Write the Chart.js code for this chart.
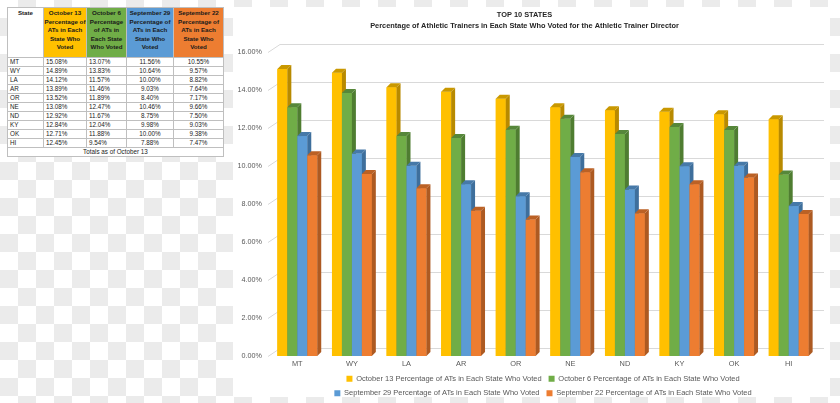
<!DOCTYPE html>
<html>
<head>
<meta charset="utf-8">
<script src="https://cdn.jsdelivr.net/npm/chart.js@4"></script>
<style>
  html, body { margin: 0; padding: 0; }
  body {
    width: 840px; height: 403px; overflow: hidden; position: relative;
    background-color: #fff;
    background-image: conic-gradient(#ebebeb 25%, transparent 0 50%, #ebebeb 0 75%, transparent 0);
    background-size: 36px 36px;
    font-family: "Liberation Sans", Arial, sans-serif;
  }
  #tbl { position: absolute; left: 7px; top: 7px; border-collapse: collapse; table-layout: fixed;
         background: #fff; font-size: 6.3px; color: #222; }
  #tbl td, #tbl th { border: 1px solid #bfbfbf; padding: 0 2px; height: 8px; line-height: 8px; white-space: nowrap; }
  #tbl th { font-weight: bold; font-size: 6.2px; vertical-align: top; text-align: center;
            height: 48px; line-height: 8.6px; padding: 1px 0 0; color: #1a1a1a; overflow: hidden; }
  #tbl td.c { text-align: center; }
  #panel { position: absolute; left: 233px; top: 7px; width: 597px; height: 390px; background: #fff; }
</style>
</head>
<body>
<table id="tbl">
  <colgroup><col style="width:36px"><col style="width:43px"><col style="width:40px"><col style="width:47px"><col style="width:50px"></colgroup>
  <thead><tr id="head"></tr></thead>
  <tbody id="body"></tbody>
</table>
<div id="panel"><canvas id="grafico" width="597" height="390"></canvas></div>
<script>
// datos
const states = ['MT', 'WY', 'LA', 'AR', 'OR', 'NE', 'ND', 'KY', 'OK', 'HI'];
const seriesNames = [
  'October 13 Percentage of ATs in Each State Who Voted',
  'October 6 Percentage of ATs in Each State Who Voted',
  'September 29 Percentage of ATs in Each State Who Voted',
  'September 22 Percentage of ATs in Each State Who Voted'
];
const oct13 = [15.08, 14.89, 14.12, 13.89, 13.52, 13.08, 12.92, 12.84, 12.71, 12.45];
const oct6 = [13.07, 13.83, 11.57, 11.46, 11.89, 12.47, 11.67, 12.04, 11.88, 9.54];
const sep29 = [11.56, 10.64, 10.00, 9.03, 8.40, 10.46, 8.75, 9.98, 10.00, 7.88];
const sep22 = [10.55, 9.57, 8.82, 7.64, 7.17, 9.66, 7.50, 9.03, 9.38, 7.47];
const yTicks = [0, 2, 4, 6, 8, 10, 12, 14, 16];

// cortes de línea de los encabezados de la tabla
const headerBreaks = [
  ['October 13', 'Percentage of', 'ATs in Each', 'State Who', 'Voted'],
  ['October 6', 'Percentage', 'of ATs in', 'Each State', 'Who Voted'],
  ['September 29', 'Percentage of', 'ATs in Each', 'State Who', 'Voted'],
  ['September 22', 'Percentage of', 'ATs in Each', 'State Who', 'Voted']
];

const series = [oct13, oct6, sep29, sep22];
const fronts = ['#ffc000', '#70ad47', '#5b9bd5', '#ed7d31'];
const sides = ['#b88a00', '#4f7d31', '#3e6f9c', '#ad5a22'];
const tops = ['#c99800', '#56873a', '#4679a8', '#bb6125'];
const pct = v => v.toFixed(2) + '%';

// tabla
const head = document.getElementById('head');
head.innerHTML = '<th>State</th>' + headerBreaks.map((lines, i) =>
  `<th style="background:${fronts[i]}">${lines.join('<br>')}</th>`).join('');
const body = document.getElementById('body');
states.forEach((s, r) => {
  body.innerHTML += `<tr><td>${s}</td><td>${pct(oct13[r])}</td><td>${pct(oct6[r])}</td>` +
    `<td class="c">${pct(sep29[r])}</td><td class="c">${pct(sep22[r])}</td></tr>`;
});
body.innerHTML += '<tr><td colspan="5" class="c">Totals as of October 13</td></tr>';

// rejilla en perspectiva (pared del fondo)
const backWall = {
  id: 'backWall',
  beforeDatasetsDraw(chart) {
    const ctx = chart.ctx, y = chart.scales.y, a = chart.chartArea;
    ctx.save();
    ctx.strokeStyle = '#d9d9d9';
    ctx.lineWidth = 1;
    yTicks.forEach(v => {
      const py = Math.round(y.getPixelForValue(v)) + 0.5;
      ctx.beginPath();
      ctx.moveTo(a.left - 2, py);
      ctx.lineTo(a.left + 10, py - 8);
      ctx.lineTo(a.right + 8, py - 8);
      ctx.stroke();
    });
    ctx.restore();
  }
};

// columnas con profundidad
const depth3d = {
  id: 'depth3d',
  afterDatasetsDraw(chart) {
    const ctx = chart.ctx, d = 4;
    ctx.save();
    chart.data.datasets.forEach((ds, i) => {
      chart.getDatasetMeta(i).data.forEach(bar => {
        const l = bar.x - bar.width / 2, r = bar.x + bar.width / 2;
        ctx.fillStyle = fronts[i];
        ctx.fillRect(l, bar.y, bar.width, bar.base - bar.y);
        ctx.fillStyle = sides[i];
        ctx.beginPath();
        ctx.moveTo(r, bar.y); ctx.lineTo(r + d, bar.y - d);
        ctx.lineTo(r + d, bar.base - d); ctx.lineTo(r, bar.base);
        ctx.closePath(); ctx.fill();
        ctx.fillStyle = tops[i];
        ctx.beginPath();
        ctx.moveTo(l, bar.y); ctx.lineTo(l + d, bar.y - d);
        ctx.lineTo(r + d, bar.y - d); ctx.lineTo(r, bar.y);
        ctx.closePath(); ctx.fill();
      });
    });
    ctx.restore();
  }
};

Chart.defaults.font.family = '"Liberation Sans", Arial, sans-serif';
Chart.defaults.color = '#595959';

new Chart(document.getElementById('grafico'), {
  type: 'bar',
  data: {
    labels: states,
    datasets: series.map((data, i) => ({
      label: seriesNames[i],
      data: data,
      backgroundColor: fronts[i],
      categoryPercentage: 0.73,
      barPercentage: 1
    }))
  },
  options: {
    responsive: false,
    animation: false,
    devicePixelRatio: 1,
    layout: { padding: { left: 0, right: 14, bottom: -10 } },
    plugins: {
      title: {
        display: true,
        text: ['TOP 10 STATES', 'Percentage of Athletic Trainers in Each State Who Voted for the Athletic Trainer Director'],
        color: '#262626',
        font: { size: 7.4, weight: 'bold', lineHeight: 1.5 },
        padding: { top: 2.6, bottom: 19.8 }
      },
      legend: {
        position: 'bottom',
        fullSize: false,
        labels: { boxWidth: 6, boxHeight: 6, padding: 7, font: { size: 7.5 }, color: '#595959' }
      },
      tooltip: { enabled: false }
    },
    scales: {
      x: {
        afterFit: scale => { scale.height = 12; },
        grid: { display: false, drawTicks: false },
        border: { display: false },
        ticks: { font: { size: 7.4 }, padding: 4 }
      },
      y: {
        min: 0, max: 16,
        afterBuildTicks: scale => { scale.ticks = yTicks.map(v => ({ value: v })); },
        afterFit: scale => { scale.width = 37; },
        grid: { display: false, drawTicks: false },
        border: { display: false },
        ticks: { font: { size: 7.2 }, padding: 8, callback: v => pct(v) }
      }
    }
  },
  plugins: [backWall, depth3d]
});
</script>
</body>
</html>
